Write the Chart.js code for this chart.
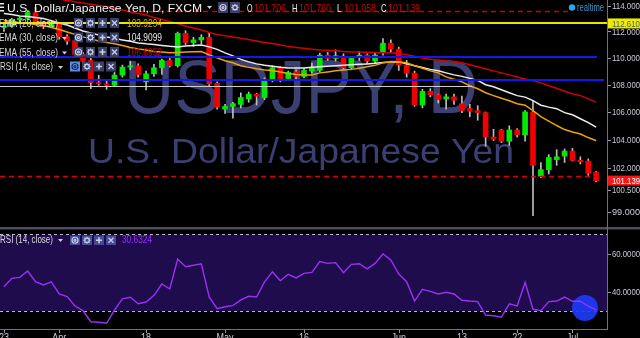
<!DOCTYPE html>
<html>
<head>
<meta charset="utf-8">
<script src="https://cdn.jsdelivr.net/npm/chart.js@4.4.1/dist/chart.umd.min.js"></script>
<style>
  html, body { margin:0; padding:0; background:#000; width:640px; height:338px; overflow:hidden; }
  #main { position:absolute; left:0; top:0; }
  #rsi  { position:absolute; left:0; top:226px; }
</style>
</head>
<body>
<canvas id="main" width="640" height="226"></canvas>
<canvas id="rsi" width="640" height="112"></canvas>
<script>
// ====== USDJPY daily, FXCM (Mar 23 - Jul 6 2016) ======
const FONT = '"Liberation Sans", Arial, sans-serif';

// ---------- Data ----------
const days = [
  '03-23','03-24','03-25','03-28','03-29','03-30','03-31',
  '04-01','04-04','04-05','04-06','04-07','04-08','04-11','04-12','04-13','04-14','04-15',
  '04-18','04-19','04-20','04-21','04-22','04-25','04-26','04-27','04-28','04-29',
  '05-02','05-03','05-04','05-05','05-06','05-09','05-10','05-11','05-12','05-13',
  '05-16','05-17','05-18','05-19','05-20','05-23','05-24','05-25','05-26','05-27','05-30','05-31',
  '06-01','06-02','06-03','06-06','06-07','06-08','06-09','06-10','06-13','06-14','06-15',
  '06-16','06-17','06-20','06-21','06-22','06-23','06-24','06-27','06-28','06-29','06-30',
  '07-01','07-04','07-05','07-06'
];
const opens = [
  112.30,112.40,112.90,113.00,113.45,112.60,112.35,112.55,111.60,111.30,
  110.25,109.80,108.15,108.05,107.95,108.70,109.30,109.40,108.20,108.80,
  109.25,109.80,109.40,111.85,111.15,111.35,111.55,108.10,106.20,106.40,
  106.55,106.95,107.30,107.05,108.35,109.25,108.45,108.95,108.60,109.00,
  109.05,110.20,109.95,110.10,109.25,110.05,110.20,109.75,110.40,111.10,
  110.65,109.45,108.85,106.50,107.50,107.25,106.95,107.10,106.60,106.25,
  106.10,105.95,104.20,104.70,103.90,104.70,104.35,106.00,101.45,101.90,
  102.60,102.85,103.20,102.55,102.50,101.706
];
const highs = [
  112.55,113.00,113.10,113.60,113.85,112.75,112.80,112.65,111.75,111.45,
  110.40,109.95,108.70,108.35,108.90,109.45,109.75,109.55,109.00,109.50,
  109.90,109.95,111.95,112.05,111.55,111.75,111.90,108.20,106.55,106.70,
  107.40,107.45,107.35,108.50,109.40,109.35,109.00,109.10,109.20,109.60,
  110.35,110.40,110.60,110.30,110.05,110.45,110.30,110.35,111.45,111.35,
  110.80,109.80,109.00,107.65,107.70,107.30,107.30,107.30,107.15,106.55,
  106.45,106.00,104.75,104.75,105.00,104.80,106.10,106.85,102.40,102.95,
  103.30,103.35,103.40,102.80,102.65,101.760
];
const lows = [
  112.00,112.30,112.75,112.90,112.50,112.20,112.30,111.40,111.00,110.10,
  109.55,107.70,107.95,107.65,107.85,108.55,109.10,108.55,107.60,108.60,
  108.75,109.30,109.30,111.00,110.85,111.05,107.90,106.20,105.90,105.55,
  106.30,106.70,106.50,106.90,108.20,108.20,108.30,108.40,108.50,108.85,
  108.95,109.80,109.75,109.15,109.10,109.80,109.60,109.60,110.20,110.40,
  109.05,108.55,106.40,106.30,107.10,106.65,106.20,106.55,105.95,105.65,
  105.40,103.55,103.95,103.80,103.60,104.20,103.90,98.75,101.35,101.60,
  102.20,102.40,102.50,102.30,101.50,101.058
];
const closes = [
  112.40,112.90,113.00,113.45,112.60,112.35,112.55,111.60,111.25,110.25,
  109.75,108.15,108.05,107.95,108.70,109.30,109.40,108.75,108.80,109.25,
  109.80,109.40,111.85,111.15,111.35,111.55,108.05,106.35,106.40,106.60,
  107.05,107.30,107.15,108.35,109.25,108.35,108.90,108.60,109.05,109.20,
  110.20,109.95,110.15,109.25,109.95,110.20,109.75,110.20,111.10,110.65,
  109.45,108.85,106.50,107.50,107.25,106.90,107.10,106.85,106.10,106.05,
  105.95,104.20,104.05,103.90,104.70,104.35,106.00,102.20,101.90,102.75,
  102.80,103.20,102.55,102.45,101.65,101.139
];
const ema20 = [
  112.83,112.76,112.68,112.60,112.53,112.45,112.30,112.15,111.96,111.77,
  111.58,111.43,111.27,111.16,111.05,110.93,110.78,110.67,110.59,110.48,
  110.44,110.37,110.40,110.44,110.46,110.47,110.22,109.99,109.77,109.62,
  109.40,109.28,109.17,109.09,109.05,108.94,108.83,108.75,108.72,108.72,
  108.87,108.94,109.02,109.09,109.13,109.21,109.32,109.43,109.62,109.69,
  109.69,109.62,109.40,109.21,109.02,108.87,108.57,108.39,108.20,107.92,
  107.69,107.40,107.19,107.00,106.82,106.60,106.49,106.09,105.66,105.34,
  105.02,104.73,104.56,104.41,104.16,103.9294
];
const ema30 = [
  113.38,113.30,113.18,113.14,113.07,112.99,112.83,112.64,112.49,112.26,
  112.03,111.88,111.73,111.58,111.47,111.35,111.24,111.12,111.05,111.01,
  110.93,110.86,110.82,110.89,110.93,110.97,110.82,110.63,110.37,110.14,
  109.88,109.69,109.54,109.43,109.36,109.28,109.24,109.24,109.24,109.28,
  109.32,109.36,109.40,109.43,109.47,109.51,109.54,109.58,109.65,109.69,
  109.69,109.54,109.40,109.28,109.13,109.02,108.87,108.72,108.61,108.46,
  108.31,107.99,107.84,107.62,107.40,107.19,107.08,106.82,106.49,106.35,
  106.24,105.95,105.80,105.51,105.23,104.9099
];
const ema55 = [
  115.33,115.21,115.10,114.98,114.86,114.75,114.63,114.51,114.39,114.29,
  114.19,114.09,114.00,113.92,113.77,113.65,113.50,113.38,113.26,113.07,
  112.91,112.76,112.60,112.41,112.26,112.11,111.92,111.77,111.66,111.58,
  111.47,111.39,111.27,111.16,111.08,110.97,110.86,110.78,110.71,110.65,
  110.59,110.56,110.52,110.48,110.44,110.43,110.41,110.40,110.38,110.37,
  110.33,110.22,110.11,109.99,109.88,109.84,109.77,109.69,109.62,109.47,
  109.32,109.17,109.02,108.87,108.72,108.57,108.42,108.28,108.13,107.92,
  107.73,107.51,107.33,107.19,106.97,106.6952
];
const rsi14 = [
  42.7,47.1,47.6,50.9,45.3,43.6,45.2,38.9,37.5,32.6,
  30.2,24.4,24.1,23.6,30.5,36.4,37.2,33.8,34.7,38.2,
  44.1,41.5,57.2,53.2,53.9,54.7,37.2,31.2,32.2,32.8,
  35.8,37.7,37.3,45.2,50.5,45.8,49.2,47.3,49.7,50.2,
  55.9,54.9,55.3,50.0,54.4,54.7,52.0,54.9,59.8,56.7,
  49.3,45.3,35.2,41.3,40.3,38.9,39.8,38.9,35.6,35.2,
  34.9,27.9,27.5,26.7,33.7,32.6,45.0,30.9,30.2,34.9,
  35.2,37.3,35.1,35.1,32.6,30.6324
];
const priceTicks = [114, 112, 110, 108, 106, 104, 102, 100.5, 99];
const rsiTicks = [60, 40];
const rsiBand = [30, 70];
const tickDays = ['03-23','04-01','04-18','05-02','05-16','06-01','06-13','06-22','07-01'];
const tickText = ['23','Apr','18','May','16','Jun','13','22','Jul'];
// user drawn horizontal lines: yellow, blue, blue, grey, red dashed, red dashed (top)
const levels = [112.61, 110.07, 108.35, 107.92, 101.43, 113.57];

const slots = days.concat(['']); // one empty slot at the right edge
const last = days.length - 1;

// ---------- Utils ----------
function txt(ctx, s, x, y, size, color, w, opt){
  opt = opt || {};
  ctx.save();
  ctx.font = (opt.bold ? 'bold ' : '') + size + 'px ' + FONT;
  ctx.fillStyle = color;
  ctx.textBaseline = opt.base || 'alphabetic';
  const m = ctx.measureText(s).width;
  const k = w ? w / m : (opt.k || 1);
  const dx = opt.center ? -m * k / 2 : 0;
  ctx.translate(x + dx, y);
  ctx.scale(k, 1);
  ctx.fillText(s, 0, 0);
  ctx.restore();
}
function caret(ctx, x, y){
  ctx.fillStyle = '#cfcfd8';
  ctx.beginPath(); ctx.moveTo(x, y); ctx.lineTo(x + 5, y); ctx.lineTo(x + 2.5, y + 3); ctx.closePath(); ctx.fill();
}
function iconBox(ctx, x, y, w, h, kind, bg, fg){
  ctx.save();
  ctx.fillStyle = bg; ctx.fillRect(x, y, w, h);
  ctx.strokeStyle = fg || '#c9cde2'; ctx.lineWidth = 1.2;
  const cx = x + w / 2, cy = y + h / 2;
  ctx.beginPath();
  if(kind === 0){ ctx.arc(cx, cy, 3, 0, Math.PI * 2); ctx.moveTo(cx + 1, cy); ctx.arc(cx, cy, 1, 0, Math.PI * 2); }
  else if(kind === 1){
    ctx.arc(cx, cy, 2.2, 0, Math.PI * 2);
    for(let a = 0; a < 8; a++){
      const t = a * Math.PI / 4;
      ctx.moveTo(cx + Math.cos(t) * 2.5, cy + Math.sin(t) * 2.5);
      ctx.lineTo(cx + Math.cos(t) * 3.6, cy + Math.sin(t) * 3.6);
    }
  }
  else if(kind === 2){ ctx.lineWidth = 1.6; ctx.moveTo(cx - 3, cy); ctx.lineTo(cx + 3, cy); ctx.moveTo(cx, cy - 3); ctx.lineTo(cx, cy + 3); }
  else { ctx.lineWidth = 1.4; ctx.moveTo(cx - 2.5, cy - 2.5); ctx.lineTo(cx + 2.5, cy + 2.5); ctx.moveTo(cx + 2.5, cy - 2.5); ctx.lineTo(cx - 2.5, cy + 2.5); }
  ctx.stroke();
  ctx.restore();
}
function hline(ctx, y, x0, x1, color, width, dash){
  ctx.save();
  ctx.strokeStyle = color; ctx.lineWidth = width;
  if(dash) ctx.setLineDash(dash);
  const yy = width % 2 ? Math.round(y) + 0.5 : Math.round(y);
  ctx.beginPath(); ctx.moveTo(x0, yy); ctx.lineTo(x1, yy); ctx.stroke();
  ctx.restore();
}
function axisLabel(ctx, s, y, bg, fg){
  if(bg){ ctx.fillStyle = bg; ctx.fillRect(608, y - 5, 32, 10); }
  txt(ctx, s, 612, y + 0.5, 9.5, fg, 28, { base: 'middle' });
}

// ---------- Main pane ----------
const levelStyle = [
  { color:'#e6e600', width:2,   from:0,   to:608 },
  { color:'#1616ee', width:2,   from:0,   to:597 },
  { color:'#1616ee', width:2,   from:0,   to:604 },
  { color:'#cfcfcf', width:1,   from:0,   to:472 },
  { color:'#e00000', width:1.5, from:0,   to:600, dash:[5,4] },
  { color:'#cc0000', width:1.5, from:140, to:572, dash:[5,4] }
];

const mainDeco = {
  id: 'mainDeco',
  beforeDatasetsDraw(c){
    const ctx = c.ctx;
    txt(ctx, 'USDJPY, D', 124, 113, 76, '#3b3f72', 354);
    txt(ctx, 'U.S. Dollar/Japanese Yen', 88, 163, 35, '#3b3f72', 426);
  },
  afterDatasetsDraw(c){
    const ctx = c.ctx, ys = c.scales.y;
    levels.forEach((v, i) => {
      const s = levelStyle[i];
      hline(ctx, ys.getPixelForValue(v), s.from, s.to, s.color, s.width, s.dash);
    });
  },
  afterDraw(c){
    const ctx = c.ctx, ys = c.scales.y;
    // price axis
    ctx.fillStyle = '#6e7088'; ctx.fillRect(607, 0, 1, 226);
    priceTicks.forEach(v => {
      const y = ys.getPixelForValue(v);
      ctx.fillStyle = '#9a9cb0'; ctx.fillRect(608, Math.round(y), 3, 1);
      axisLabel(ctx, v.toFixed(3), y, null, '#c9cbd8');
    });
    axisLabel(ctx, levels[0].toFixed(3), ys.getPixelForValue(levels[0]), '#eded00', '#555555');
    axisLabel(ctx, closes[last].toFixed(3), ys.getPixelForValue(closes[last]), '#f01818', '#ffffff');

    // title row
    ctx.fillStyle = '#e8e8e8'; ctx.fillRect(0, 3, 4, 1.5); ctx.fillRect(0, 6.5, 4, 1.5); ctx.fillRect(0, 10, 4, 1.5);
    txt(ctx, 'U.S. Dollar/Japanese Yen, D, FXCM', 7, 11.5, 11.5, '#f2f2f2', 195);
    caret(ctx, 207, 6);
    iconBox(ctx, 218, 2, 10, 11, 0, '#3a3f6a');
    iconBox(ctx, 230, 2, 10, 11, 1, '#3a3f6a');
    const ohlc = [['O', opens[last], 247], ['H', highs[last], 292], ['L', lows[last], 337], ['C', closes[last], 381]];
    ohlc.forEach(([k, v, x]) => {
      txt(ctx, k, x, 11.5, 10.5, '#f0f0f0', k === 'L' ? 4.5 : 5.5);
      txt(ctx, v.toFixed(3), x + 7, 11.5, 10.5, '#d40000', 32);
    });
    ctx.fillStyle = '#2aa8e6'; ctx.beginPath(); ctx.arc(572, 7.5, 3.2, 0, Math.PI * 2); ctx.fill();
    txt(ctx, 'realtime', 577, 11, 10, '#3a94c8', 27);

    // indicator legend
    const rows = [
      { name:'EMA (20, close)', val:ema20[last], color:'#c9a70a', base:26.5 },
      { name:'EMA (30, close)', val:ema30[last], color:'#e6e6e6', base:41 },
      { name:'EMA (55, close)', val:ema55[last], color:'#cc0000', base:55.5 }
    ];
    rows.forEach(r => {
      txt(ctx, r.name, -1, r.base, 10.5, '#dadada', 59);
      caret(ctx, 62, r.base - 4);
      [74, 86, 98, 110].forEach((x, k) => iconBox(ctx, x, r.base - 8.5, 9, 10, k, '#3a3f6a'));
      txt(ctx, r.val.toFixed(4), 127, r.base, 10.5, r.color, 35);
    });
    txt(ctx, 'RSI (14, close)', 0, 70, 10.5, '#dadada', 53);
    caret(ctx, 58, 66);
    [70, 82, 94, 106].forEach((x, k) => iconBox(ctx, x, 61.5, 10, 10, k, k === 0 ? '#5a8ee6' : '#3a3f6a', k === 0 ? '#1c2a55' : null));
  }
};

const candleColors = opens.map((o, i) => closes[i] >= o ? '#00ea00' : '#f00000');

new Chart(document.getElementById('main'), {
  type: 'bar',
  data: {
    labels: slots,
    datasets: [
      { type:'line', data: ema20, borderColor:'#eea20c', borderWidth:1.5, pointRadius:0, order:1 },
      { type:'line', data: ema30, borderColor:'#ececec', borderWidth:1.5, pointRadius:0, order:2 },
      { type:'line', data: ema55, borderColor:'#d20000', borderWidth:1.5, pointRadius:0, order:3 },
      { data: opens.map((o, i) => [o, closes[i]]), backgroundColor: candleColors,
        barThickness:5, grouped:false, minBarLength:1, order:4 },
      { data: lows.map((l, i) => [l, highs[i]]), backgroundColor:'#bdbdbd',
        barThickness:1, grouped:false, order:5 }
    ]
  },
  options: {
    responsive:false, animation:false, devicePixelRatio:1, events:[],
    layout: { padding: { left:0, right:32, top:0, bottom:0 } },
    plugins: { legend:{ display:false }, tooltip:{ enabled:false } },
    scales: {
      x: { type:'category', offset:true, display:false },
      y: { type:'logarithmic', min:98.05, max:114.43, display:false }
    }
  },
  plugins: [mainDeco]
});

// ---------- RSI pane ----------
const rsiDeco = {
  id: 'rsiDeco',
  beforeDatasetsDraw(c){
    const ctx = c.ctx, ys = c.scales.y;
    ctx.fillStyle = '#4e4e5c'; ctx.fillRect(0, 1, 640, 2.5);
    const yTop = ys.getPixelForValue(rsiBand[1]), yBot = ys.getPixelForValue(rsiBand[0]);
    ctx.fillStyle = '#1e0c4c'; ctx.fillRect(0, yTop, 607, yBot - yTop);
    hline(ctx, yTop, 0, 607, '#b9b9cc', 1, [3, 3]);
    hline(ctx, yBot, 0, 607, '#b9b9cc', 1, [3, 3]);
    ctx.fillStyle = 'rgba(30,58,245,0.93)';
    ctx.beginPath(); ctx.arc(585, 82, 13, 0, Math.PI * 2); ctx.fill();
  },
  afterDraw(c){
    const ctx = c.ctx, ys = c.scales.y, xs = c.scales.x;
    ctx.fillStyle = '#6e7088';
    ctx.fillRect(607, 0, 1, 104);
    ctx.fillRect(0, 103, 608, 1);
    rsiTicks.forEach(v => {
      const y = ys.getPixelForValue(v);
      ctx.fillStyle = '#9a9cb0'; ctx.fillRect(608, Math.round(y), 3, 1);
      axisLabel(ctx, v.toFixed(4), y, null, '#c9cbd8');
    });
    tickDays.forEach((d, k) => {
      const x = xs.getPixelForValue(days.indexOf(d));
      ctx.fillStyle = '#9a9cb0'; ctx.fillRect(Math.round(x), 104, 1, 3);
      txt(ctx, tickText[k], x, 107.5, 10, '#c9cbd8', null, { base:'top', center:true, k:0.9 });
    });
    txt(ctx, 'RSI (14, close)', 0, 17, 10.5, '#dadada', 53);
    caret(ctx, 58, 13);
    [70, 82, 94, 106].forEach((x, k) => iconBox(ctx, x, 9.5, 10, 9.5, k, '#444a96'));
    txt(ctx, rsi14[last].toFixed(4), 122, 17, 10.5, '#9b30ff', 30);
  }
};

new Chart(document.getElementById('rsi'), {
  type: 'line',
  data: {
    labels: slots,
    datasets: [
      { data: rsi14, borderColor:'#9b30f5', borderWidth:1.4, pointRadius:0 }
    ]
  },
  options: {
    responsive:false, animation:false, devicePixelRatio:1, events:[],
    layout: { padding: { left:0, right:32, top:5, bottom:10 } },
    plugins: { legend:{ display:false }, tooltip:{ enabled:false } },
    scales: {
      x: { type:'category', offset:true, display:false },
      y: { type:'linear', min:21.11, max:71.83, display:false }
    }
  },
  plugins: [rsiDeco]
});
</script>
</body>
</html>
